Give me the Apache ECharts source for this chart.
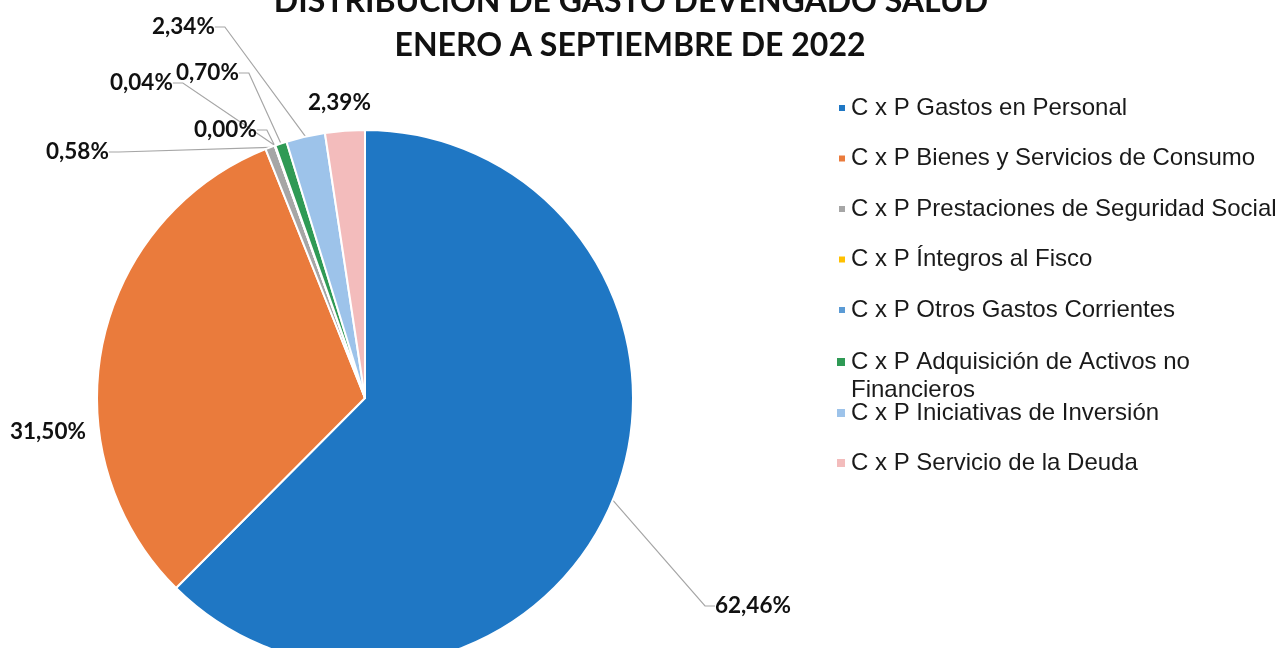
<!DOCTYPE html>
<html>
<head>
<meta charset="utf-8">
<script src="https://cdn.jsdelivr.net/npm/echarts@6/dist/echarts.min.js"></script>
<style>
  html, body { margin: 0; padding: 0; background: #ffffff; }
  #chart { width: 1280px; height: 648px; }
</style>
</head>
<body>
<div id="chart"></div>
<script>
// ---- data ----
const titleLines = ['DISTRIBUCIÓN DE GASTO DEVENGADO SALUD', 'ENERO A SEPTIEMBRE DE 2022'];
const categories = [
  'C x P Gastos en Personal',
  'C x P Bienes y Servicios de Consumo',
  'C x P Prestaciones de Seguridad Social',
  'C x P Íntegros al Fisco',
  'C x P Otros Gastos Corrientes',
  'C x P Adquisición de Activos no\nFinancieros',
  'C x P Iniciativas de Inversión',
  'C x P Servicio de la Deuda'
];
const percentValues = [62.46, 31.50, 0.58, 0.00, 0.04, 0.70, 2.34, 2.39];

// ---- styling / layout ----
const colors = ['#1f77c4', '#ea7b3c', '#a6a6a6', '#ffc000', '#5b9bd5', '#2f9a55', '#9dc3ea', '#f3bcbc'];
const labelAnchors = [[715, 606], [10, 432], [46, 152], [194, 130], [110, 83], [176, 73], [152, 27], [308, 103]];
const noLineIdx = [1, 7];

const chart = echarts.init(document.getElementById('chart'), null, { renderer: 'canvas' });

const legendText = { fontFamily: 'Liberation Sans', fontSize: 24, lineHeight: 24, color: '#1a1a1a' };
const titleText = { fontFamily: 'Lato', fontWeight: 'bold', fontSize: 32, color: '#111' };

const option = {
  animation: false,
  color: colors,
  title: [
    { text: titleLines[0], left: 631, textAlign: 'center', top: -14, padding: 0, textStyle: titleText },
    { text: titleLines[1], left: 630, textAlign: 'center', top: 30, padding: 0, textStyle: titleText }
  ],
  legend: [
    { orient: 'vertical', left: 837, top: 96, padding: 0, itemGap: 26.5,
      itemWidth: 8, itemHeight: 8, icon: 'rect', selectedMode: false,
      data: categories.slice(0, 5), textStyle: legendText },
    { orient: 'vertical', left: 835, top: 320, padding: 0, itemGap: 26,
      itemWidth: 10, itemHeight: 10, icon: 'rect', selectedMode: false,
      formatter: name => '\n' + name,
      data: categories.slice(5, 6), textStyle: Object.assign({}, legendText, { lineHeight: 28 }) },
    { orient: 'vertical', left: 835, top: 401, padding: 0, itemGap: 26,
      itemWidth: 10, itemHeight: 10, icon: 'rect', selectedMode: false,
      data: categories.slice(6), textStyle: legendText }
  ],
  series: [{
    type: 'pie',
    center: [365, 398],
    radius: 268,
    startAngle: 90,
    clockwise: true,
    avoidLabelOverlap: false,
    silent: true,
    itemStyle: { borderColor: '#ffffff', borderWidth: 2 },
    label: {
      show: true,
      position: 'outside',
      fontFamily: 'Lato',
      fontWeight: 'bold',
      fontSize: 22.5,
      color: '#111',
      formatter: p => percentValues[p.dataIndex].toFixed(2).replace('.', ',') + '%'
    },
    labelLine: { show: true, length: 10, length2: 10, lineStyle: { color: '#a6a6a6', width: 1.2 } },
    labelLayout: p => ({
      x: labelAnchors[p.dataIndex][0],
      y: labelAnchors[p.dataIndex][1],
      align: 'left',
      verticalAlign: 'middle'
    }),
    data: categories.map((name, i) => ({
      name: name,
      value: percentValues[i],
      labelLine: { show: noLineIdx.indexOf(i) < 0 }
    }))
  }]
};

chart.setOption(option);
</script>
</body>
</html>
